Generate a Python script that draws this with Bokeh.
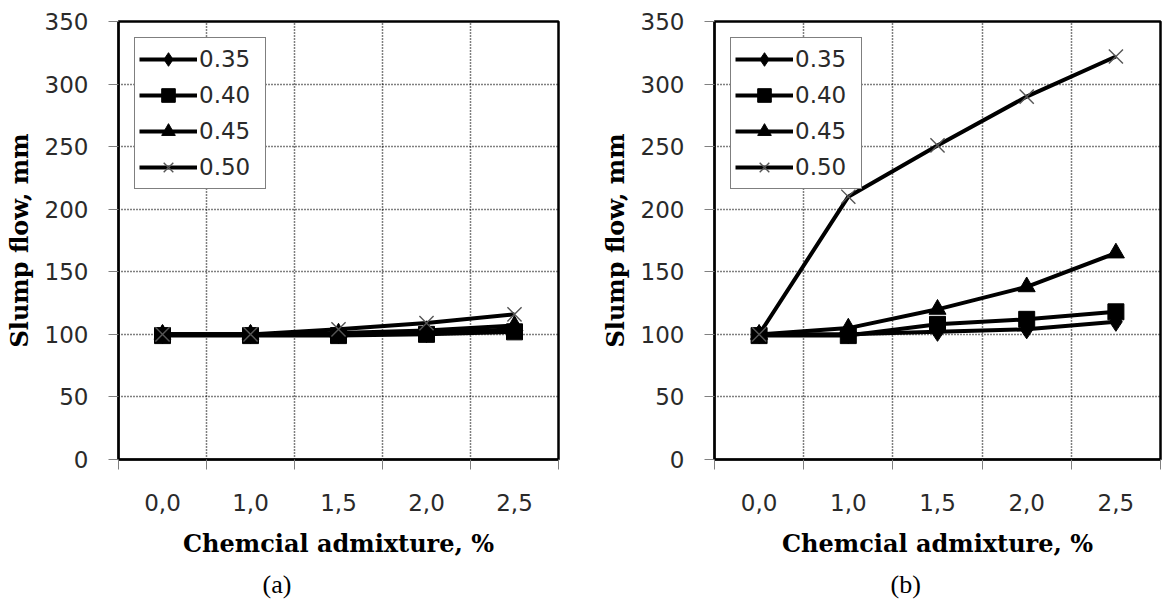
from bokeh.plotting import figure
from bokeh.models import Range1d, FixedTicker, Title
from bokeh.layouts import row
from bokeh.embed import file_html
from bokeh.resources import INLINE

# ---- data ----
categories = ["0,0", "1,0", "1,5", "2,0", "2,5"]
series_names = ["0.35", "0.40", "0.45", "0.50"]

a_035 = [100, 100, 100, 101, 104]
a_040 = [99, 99, 99, 100, 102]
a_045 = [100, 100, 101, 103, 107]
a_050 = [100, 100, 104, 109, 116]

b_035 = [100, 100, 102, 104, 110]
b_040 = [99, 99, 108, 112, 118]
b_045 = [100, 105, 120, 138, 165]
b_050 = [100, 210, 251, 290, 322]

y_ticks = [0, 50, 100, 150, 200, 250, 300, 350]
x_title = "Chemcial admixture, %"
y_title = "Slump flow, mm"

TICK_FONT = "DejaVu Sans"
TITLE_FONT = "DejaVu Serif"

marker_styles = [
    dict(marker="diamond", size=19, fill_color="black", line_color="black"),
    dict(marker="square", size=16, fill_color="black", line_color="black"),
    dict(marker="triangle", size=17, fill_color="black", line_color="black"),
    dict(marker="x", size=20, fill_color=None, line_color="#555555", line_width=1.4),
]


def make_panel(series, panel_label, width, min_left, min_right, label_offset):
    xs = [i + 1 for i in range(len(categories))]
    p = figure(width=width, height=606, output_backend="svg", toolbar_location=None,
               x_range=Range1d(0.5, len(categories) + 0.5), y_range=Range1d(0, 350),
               min_border_left=min_left, min_border_right=min_right,
               min_border_top=21, min_border_bottom=146)
    p.background_fill_color = "white"
    p.border_fill_color = "white"
    p.outline_line_color = "black"
    p.outline_line_width = 2.5

    for name, ys, st in zip(series_names, series, marker_styles):
        p.line(xs, ys, line_color="black", line_width=4, legend_label=name)
        p.scatter(xs, ys, legend_label=name, **st)

    # x axis
    xa = p.xaxis[0]
    xa.ticker = FixedTicker(ticks=xs, minor_ticks=[i + 0.5 for i in range(len(categories) + 1)])
    xa.major_label_overrides = {x: c for x, c in zip(xs, categories)}
    xa.major_tick_line_color = None
    xa.major_tick_out = 0
    xa.minor_tick_out = 10
    xa.minor_tick_in = 0
    xa.minor_tick_line_color = "#808080"
    xa.axis_line_color = "black"
    xa.axis_line_width = 2
    xa.major_label_text_font = TICK_FONT
    xa.major_label_text_font_size = "23px"
    xa.major_label_text_color = "#2a2a2a"
    xa.major_label_standoff = 24
    xa.axis_label = x_title
    xa.axis_label_text_font = TITLE_FONT
    xa.axis_label_text_font_style = "bold"
    xa.axis_label_text_font_size = "24px"
    xa.axis_label_text_color = "black"
    xa.axis_label_standoff = 15

    # y axis
    ya = p.yaxis[0]
    ya.ticker = FixedTicker(ticks=y_ticks)
    ya.major_tick_out = 10
    ya.major_tick_in = 0
    ya.major_tick_line_color = "#808080"
    ya.minor_tick_line_color = None
    ya.axis_line_color = "black"
    ya.axis_line_width = 2
    ya.major_label_text_font = TICK_FONT
    ya.major_label_text_font_size = "23px"
    ya.major_label_text_color = "#2a2a2a"
    ya.major_label_standoff = 20
    ya.axis_label = y_title
    ya.axis_label_text_font = TITLE_FONT
    ya.axis_label_text_font_style = "bold"
    ya.axis_label_text_font_size = "24px"
    ya.axis_label_text_color = "black"
    ya.axis_label_standoff = 8

    # grids
    p.xgrid.grid_line_color = None
    p.xgrid.minor_grid_line_color = "black"
    p.xgrid.minor_grid_line_dash = "1 2"
    p.xgrid.minor_grid_line_width = 1.5
    p.ygrid.grid_line_color = "black"
    p.ygrid.grid_line_dash = "1 2"
    p.ygrid.grid_line_width = 1.5

    # legend
    lg = p.legend[0]
    lg.location = "top_left"
    lg.margin = 16
    lg.padding = 4
    lg.spacing = 2
    lg.glyph_width = 58
    lg.glyph_height = 34
    lg.label_height = 34
    lg.label_width = 62
    lg.label_standoff = 2
    lg.label_text_font = TICK_FONT
    lg.label_text_font_size = "23px"
    lg.label_text_color = "#2a2a2a"
    lg.border_line_color = "black"
    lg.border_line_width = 1.5
    lg.background_fill_color = "white"
    lg.background_fill_alpha = 1

    p.add_layout(Title(text=panel_label, align="left", offset=label_offset, standoff=15,
                       text_font="Liberation Serif", text_font_size="26px",
                       text_font_style="normal", text_color="black"), "below")
    return p


pa = make_panel([a_035, a_040, a_045, a_050], "(a)", 590, 118, 32, 144)
pb = make_panel([b_035, b_040, b_045, b_050], "(b)", 572, 124, 2, 176)

layout = row(pa, pb)
open("out.html", "w").write(file_html(layout, INLINE))
